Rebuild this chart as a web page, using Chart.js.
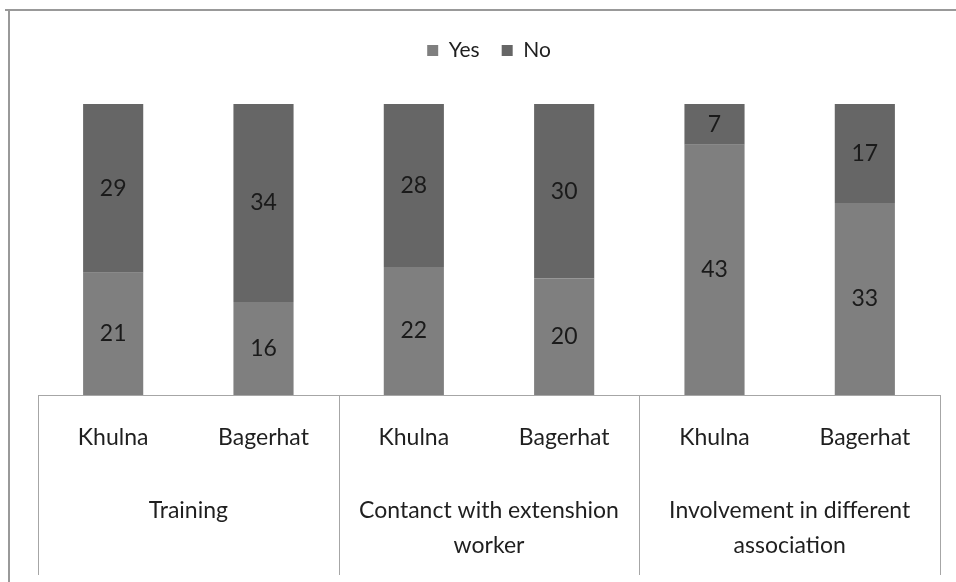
<!DOCTYPE html>
<html>
<head>
<meta charset="utf-8">
<script src="https://cdn.jsdelivr.net/npm/chart.js@4"></script>
<style>
  body { margin: 0; background: #fff; }
  #wrap { width: 956px; height: 582px; }
</style>
</head>
<body>
<div id="wrap"><canvas id="adoptChart" width="956" height="582"></canvas></div>
<script>
/* ---- data ---- */
const districts = ["Khulna", "Bagerhat", "Khulna", "Bagerhat", "Khulna", "Bagerhat"];
const groups = [
  ["Training"],
  ["Contanct with extenshion", "worker"],
  ["Involvement in different", "association"]
];
const yesValues = [21, 16, 22, 20, 43, 33];
const noValues = [29, 34, 28, 30, 7, 17];

const FONT = "Lato, 'Liberation Sans', sans-serif";
const lineColor = "#a6a6a6";

/* extra space under the legend */
const legendGap = {
  id: "legendGap",
  beforeInit(chart) {
    const fit = chart.legend.fit;
    chart.legend.fit = function () {
      fit.bind(chart.legend)();
      this.height += 33;
    };
  }
};

/* box around the category axis, group labels and outer frame */
const axisBox = {
  id: "axisBox",
  afterDraw(chart) {
    const ctx = chart.ctx;
    const x = chart.scales.x;
    const area = chart.chartArea;
    const bottom = 575;
    const step = x.getPixelForValue(1) - x.getPixelForValue(0);

    ctx.save();
    // outer frame
    ctx.strokeStyle = "#999";
    ctx.lineWidth = 2;
    ctx.beginPath();
    ctx.moveTo(5, 10);
    ctx.lineTo(956, 10);
    ctx.moveTo(9, 10);
    ctx.lineTo(9, 582);
    ctx.stroke();

    // axis box
    ctx.strokeStyle = lineColor;
    ctx.lineWidth = 1;
    ctx.beginPath();
    ctx.moveTo(area.left, area.bottom + 0.5);
    ctx.lineTo(area.right, area.bottom + 0.5);
    for (let g = 0; g <= groups.length; g++) {
      const px = Math.round(x.getPixelForValue(g * 2) - step / 2) + 0.5;
      ctx.moveTo(px, area.bottom);
      ctx.lineTo(px, bottom);
    }
    ctx.stroke();

    // district labels
    ctx.fillStyle = "#1f1f1f";
    ctx.font = "23px " + FONT;
    ctx.textAlign = "center";
    ctx.textBaseline = "middle";
    districts.forEach((d, i) => {
      ctx.fillText(d, x.getPixelForValue(i), 438);
    });

    // group labels
    groups.forEach((lines, g) => {
      const cx = (x.getPixelForValue(g * 2) + x.getPixelForValue(g * 2 + 1)) / 2;
      lines.forEach((t, k) => {
        ctx.fillText(t, cx, 511 + k * 35);
      });
    });
    ctx.restore();
  }
};

/* value labels inside the segments */
const segLabels = {
  id: "segLabels",
  afterDatasetsDraw(chart) {
    const ctx = chart.ctx;
    ctx.save();
    ctx.fillStyle = "#1a1a1a";
    ctx.font = "23px " + FONT;
    ctx.textAlign = "center";
    ctx.textBaseline = "middle";
    chart.data.datasets.forEach((ds, di) => {
      chart.getDatasetMeta(di).data.forEach((bar, i) => {
        const mid = (bar.y + bar.base) / 2;
        ctx.fillText(ds.data[i], bar.x, mid);
      });
    });
    ctx.restore();
  }
};

new Chart(document.getElementById("adoptChart"), {
  type: "bar",
  data: {
    labels: districts,
    datasets: [
      {
        label: "Yes",
        data: yesValues,
        backgroundColor: "#7f7f7f",
        barPercentage: 0.4,
        categoryPercentage: 1
      },
      {
        label: "No",
        data: noValues,
        backgroundColor: "#666666",
        barPercentage: 0.4,
        categoryPercentage: 1
      }
    ]
  },
  options: {
    responsive: false,
    animation: false,
    layout: { padding: { left: 38, right: 16, top: 18, bottom: 187 } },
    scales: {
      x: { stacked: true, display: false },
      y: { stacked: true, display: false, min: 0, max: 50 }
    },
    plugins: {
      tooltip: { enabled: false },
      legend: {
        position: "top",
        labels: {
          color: "#1f1f1f",
          font: { family: FONT, size: 21 },
          boxWidth: 11,
          boxHeight: 11,
          padding: 22
        }
      }
    }
  },
  plugins: [legendGap, axisBox, segLabels]
});
</script>
</body>
</html>
